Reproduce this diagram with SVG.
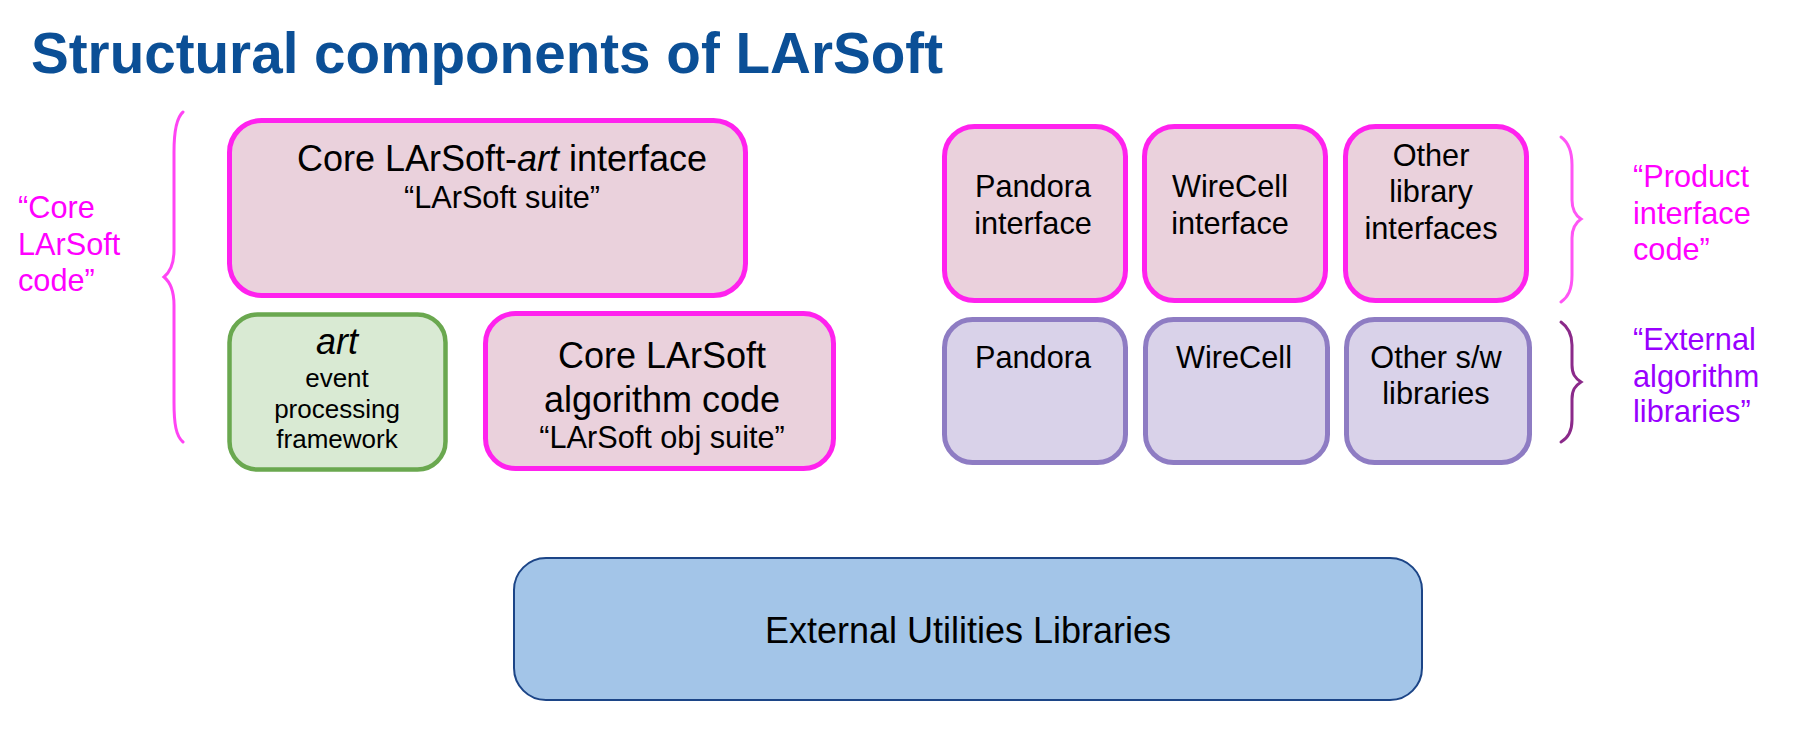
<svg xmlns="http://www.w3.org/2000/svg" width="1800" height="746" viewBox="0 0 1800 746">
<style>
text{font-family:"Liberation Sans",Arial,Helvetica,sans-serif;fill:#000}
.t{font-size:30.7px}
.big{font-size:36px}
.sm{font-size:26px}
.c{text-anchor:middle}
.pink{fill:#ead1dc;stroke:#ff22ee;stroke-width:5}
.purp{fill:#d9d2e9;stroke:#8e7cc3;stroke-width:5}
.green{fill:#d9ead3;stroke:#6aa84f;stroke-width:4.5}
.blue{fill:#a3c5e8;stroke:#1c4587;stroke-width:2}
.brace{fill:none;stroke-width:3;stroke-linecap:round}
.mag{fill:#ff00ff}
.vio{fill:#9900ff}
</style>
<rect width="1800" height="746" fill="#fff"/>
<text x="31" y="73" textLength="912" lengthAdjust="spacingAndGlyphs" style="font-size:57px;font-weight:bold;fill:#0b4f96">Structural components of LArSoft</text>

<g id="label-core">
<text class="t mag" x="18" y="218">“Core</text>
<text class="t mag" x="18" y="255">LArSoft</text>
<text class="t mag" x="18" y="291">code”</text>
</g>
<g id="label-product">
<text class="t mag" x="1633" y="187">“Product</text>
<text class="t mag" x="1633" y="224">interface</text>
<text class="t mag" x="1633" y="260">code”</text>
</g>
<g id="label-external">
<text class="t vio" x="1633" y="350">“External</text>
<text class="t vio" x="1633" y="387">algorithm</text>
<text class="t vio" x="1633" y="422">libraries”</text>
</g>

<g id="connectors">
<path class="brace" stroke="#ff44f4" d="M183,112 C176,118 174,132 174,152 L174,250 C174,265 170,272 164,277 C170,282 174,290 174,305 L174,402 C174,424 176,436 183,442"/>
<path class="brace" stroke="#ff55f5" d="M1561,137 C1568,142 1572,150 1572,165 L1572,200 C1572,210 1575,215 1581,219 C1575,223 1572,228 1572,238 L1572,275 C1572,290 1568,297 1561,302"/>
<path class="brace" stroke="#8b2a8a" d="M1561,322 C1568,327 1572,334 1572,345 L1572,365 C1572,374 1575,378 1581,382 C1575,386 1572,390 1572,399 L1572,420 C1572,432 1568,438 1561,442"/>
</g>

<g id="core-art-interface">
<rect class="pink" x="229.5" y="120.5" width="516" height="175" rx="32"/>
<text class="big c" x="502" y="171">Core LArSoft-<tspan font-style="italic">art</tspan> interface</text>
<text class="t c" x="502" y="208">“LArSoft suite”</text>
</g>

<g id="art-framework">
<rect class="green" x="229.5" y="314.5" width="216" height="155" rx="28"/>
<text class="big c" x="337" y="354" font-style="italic">art</text>
<text class="sm c" x="337" y="387">event</text>
<text class="sm c" x="337" y="418">processing</text>
<text class="sm c" x="337" y="448">framework</text>
</g>

<g id="core-algorithm">
<rect class="pink" x="485.5" y="313.5" width="348" height="155" rx="30"/>
<text class="big c" x="662" y="368">Core LArSoft</text>
<text class="big c" x="662" y="412">algorithm code</text>
<text class="t c" x="662" y="448">“LArSoft obj suite”</text>
</g>

<g id="pandora-interface">
<rect class="pink" x="944.5" y="126.5" width="181" height="174" rx="30"/>
<text class="t c" x="1033" y="197">Pandora</text>
<text class="t c" x="1033" y="234">interface</text>
</g>

<g id="wirecell-interface">
<rect class="pink" x="1144.5" y="126.5" width="181" height="174" rx="30"/>
<text class="t c" x="1230" y="197">WireCell</text>
<text class="t c" x="1230" y="234">interface</text>
</g>

<g id="other-interfaces">
<rect class="pink" x="1345.5" y="126.5" width="181" height="174" rx="30"/>
<text class="t c" x="1431" y="166">Other</text>
<text class="t c" x="1431" y="202">library</text>
<text class="t c" x="1431" y="239">interfaces</text>
</g>

<g id="pandora">
<rect class="purp" x="944.5" y="319.5" width="181" height="143" rx="28"/>
<text class="t c" x="1033" y="368">Pandora</text>
</g>

<g id="wirecell">
<rect class="purp" x="1145.5" y="319.5" width="182" height="143" rx="28"/>
<text class="t c" x="1234" y="368">WireCell</text>
</g>

<g id="other-libraries">
<rect class="purp" x="1346.5" y="319.5" width="183" height="143" rx="28"/>
<text class="t c" x="1436" y="368">Other s/w</text>
<text class="t c" x="1436" y="404">libraries</text>
</g>

<g id="external-utilities">
<rect class="blue" x="514" y="558" width="908" height="142" rx="32"/>
<text class="big c" x="968" y="643">External Utilities Libraries</text>
</g>
</svg>
